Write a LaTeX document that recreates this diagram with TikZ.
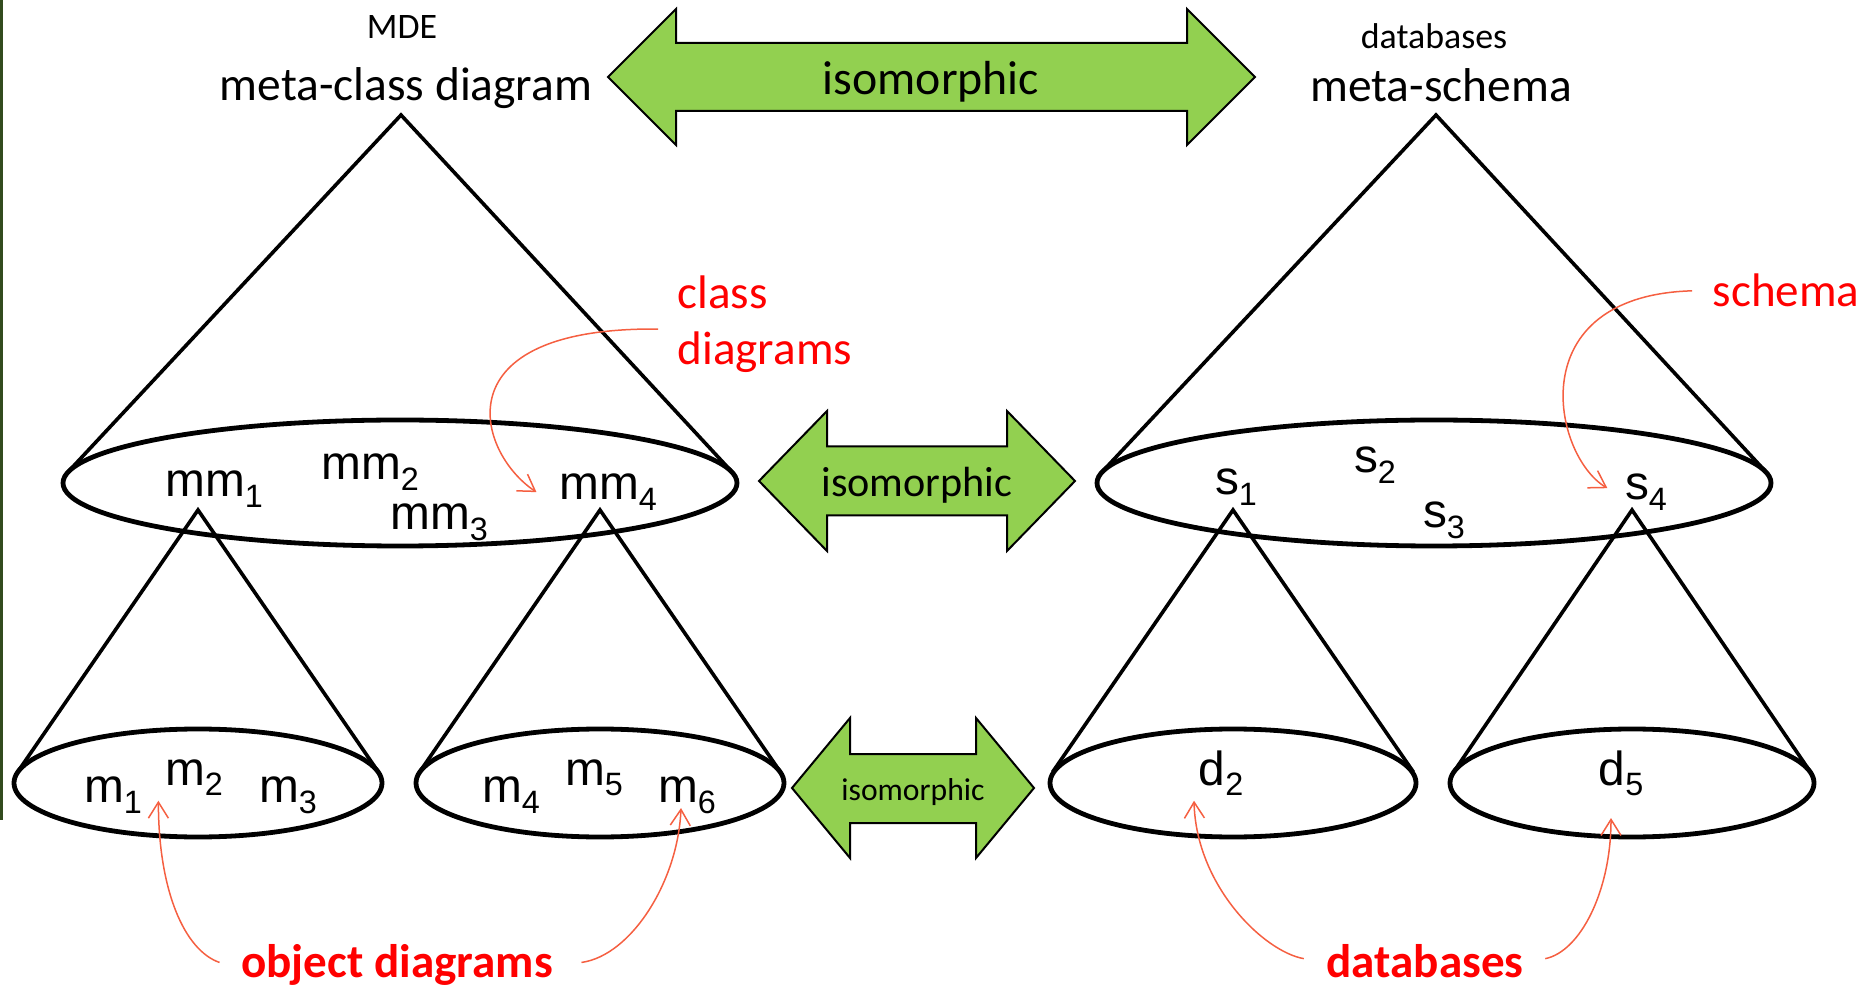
\documentclass[tikz,border=0pt]{standalone}
\usepackage{fontspec}
\setmainfont{Carlito}
\newfontfamily\arialfont{Liberation Sans}
\usetikzlibrary{arrows.meta}

\definecolor{isogreen}{HTML}{92D050}
\definecolor{notered}{HTML}{FF0000}
\definecolor{pointred}{RGB}{245,95,65}
\definecolor{edgegreen}{RGB}{50,75,30}

% lowered index after a label
\newcommand{\ix}[1]{\raisebox{-0.21em}{\fontsize{9.2}{10}\selectfont #1}}

\begin{document}
\begin{tikzpicture}[
  x=0.1mm, y=-0.1mm,
  coneline/.style={line width=0.36mm,line join=miter},
  rim/.style={line width=0.48mm},
  iso/.style={draw=black,line width=0.2mm,fill=isogreen,line join=miter},
  isotext/.style={inner sep=0pt,anchor=base},
  head/.style={inner sep=0pt,anchor=base,font=\fontsize{13.5}{16}\selectfont},
  subhead/.style={inner sep=0pt,anchor=base,font=\fontsize{10.2}{12}\selectfont},
  lbl/.style={inner sep=0pt,anchor=base,font=\arialfont\fontsize{13.6}{16}\selectfont},
  note/.style={inner sep=0pt,text=notered,font=\fontsize{13.4}{15.9}\selectfont},
  pointer/.style={-{Straight Barb[length=1.6mm,width=2mm]},draw=pointred,line width=0.15mm},
]
\useasboundingbox (0,0) rectangle (1869,987);

% stray rule on the left edge
\draw[edgegreen,line width=0.26mm] (1.3,0) -- (1.3,820);

% ---- titles ----
\node[subhead] (mde)     at (402,39)  {MDE};
\node[head]    (metacls) at (406,101) {meta-class diagram};
\node[subhead] (dbs)     at (1434,49) {databases};
\node[head]    (metasch) at (1441,102) {meta-schema};

% ---- cone apexes ----
\coordinate (mcTop) at (401,115);
\coordinate (msTop) at (1436,115);
\coordinate (aTop)  at (198,510);
\coordinate (bTop)  at (600,510);
\coordinate (cTop)  at (1233,510);
\coordinate (dTop)  at (1632,510);

% ---- cones: sides touch the rims ----
\draw[coneline] (68,472)     -- (mcTop) -- (732,472);
\draw[coneline] (1102,472)   -- (msTop) -- (1766,472);
\draw[coneline] (17.6,772)   -- (aTop)  -- (378.4,772);
\draw[coneline] (419.6,772)  -- (bTop)  -- (780.4,772);
\draw[coneline] (1052.6,772) -- (cTop)  -- (1413.4,772);
\draw[coneline] (1453.6,772) -- (dTop)  -- (1810.4,772);

\draw[rim] (400,483)  ellipse [x radius=33.7mm,y radius=6.3mm];
\draw[rim] (1434,483) ellipse [x radius=33.7mm,y radius=6.3mm];
\draw[rim] (198,783)  ellipse [x radius=18.4mm,y radius=5.4mm];
\draw[rim] (600,783)  ellipse [x radius=18.4mm,y radius=5.4mm];
\draw[rim] (1233,783) ellipse [x radius=18.3mm,y radius=5.4mm];
\draw[rim] (1632,783) ellipse [x radius=18.2mm,y radius=5.4mm];

% ---- labels in the rims ----
\node[lbl] (mm1) at (214,497) {mm\ix{1}};
\node[lbl] (mm2) at (370,480) {mm\ix{2}};
\node[lbl] (mm3) at (439,530) {mm\ix{3}};
\node[lbl] (mm4) at (608,500) {mm\ix{4}};

\node[lbl] (s1) at (1236,495) {s\ix{1}};
\node[lbl] (s2) at (1375,473) {s\ix{2}};
\node[lbl] (s3) at (1444,528) {s\ix{3}};
\node[lbl] (s4) at (1646,500) {s\ix{4}};

\node[lbl] (m1) at (113,803) {m\ix{1}};
\node[lbl] (m2) at (194,785) {m\ix{2}};
\node[lbl] (m3) at (288,803) {m\ix{3}};
\node[lbl] (m4) at (511,803) {m\ix{4}};
\node[lbl] (m5) at (594,785) {m\ix{5}};
\node[lbl] (m6) at (687,803) {m\ix{6}};

\node[lbl] (d2) at (1221,785) {d\ix{2}};
\node[lbl] (d5) at (1621,785) {d\ix{5}};

% ---- isomorphic double arrows ----
\draw[iso] (608,77) -- (676,9) -- (676,43) -- (1187,43) -- (1187,9) -- (1255,77)
  -- (1187,145) -- (1187,111) -- (676,111) -- (676,145) -- cycle;
\node[isotext,font=\fontsize{13.6}{16}\selectfont] (isotop) at (931,95) {isomorphic};

\draw[iso] (759,481) -- (827,411) -- (827,446.5) -- (1007,446.5) -- (1007,411) -- (1075,481)
  -- (1007,551) -- (1007,515.5) -- (827,515.5) -- (827,551) -- cycle;
\node[isotext,font=\fontsize{12}{14}\selectfont] (isomid) at (917,497) {isomorphic};

\draw[iso] (792,788) -- (850,718) -- (850,754) -- (976,754) -- (976,718) -- (1034,788)
  -- (976,858) -- (976,823) -- (850,823) -- (850,858) -- cycle;
\node[isotext,font=\fontsize{9}{11}\selectfont] (isobot) at (913,800) {isomorphic};

% ---- red notes ----
\node[note,anchor=north west,align=left] (clsnote) at (677,275) {class\\diagrams};
\node[note,anchor=base west] (schnote) at (1712,307) {schema};
\node[note,anchor=base,font=\fontsize{13.4}{16}\selectfont\bfseries] (objnote) at (397,977) {object diagrams};
\node[note,anchor=base,font=\fontsize{13.4}{16}\selectfont\bfseries] (dbnote) at (1425,977) {databases};

\draw[pointer] ([shift={(-19,5)}]clsnote.west)
  .. controls +(-218,-2) and +(-60,-40) .. ([shift={(-22,0)}]mm4.west);
\draw[pointer] ([shift={(-20,0)}]schnote.west)
  .. controls +(-172,5) and +(-55,-33) .. ([shift={(-17,-4)}]s4.west);

\draw[pointer] ([shift={(-21,-2)}]objnote.west)
  .. controls +(-35,-12) and +(0,90) .. ([shift={(-6,5)}]m2.south west);
\draw[pointer] ([shift={(28,-2)}]objnote.east)
  .. controls +(50,-7) and +(-3,73) .. ([shift={(-6,-6)}]m6.south);

\draw[pointer] ([shift={(-22,-2)}]dbnote.west)
  .. controls +(-40,-7) and +(2,85) .. ([shift={(-4,5)}]d2.south west);
\draw[pointer] ([shift={(21,-2)}]dbnote.east)
  .. controls +(35,-7) and +(0,73) .. ([shift={(-10,22)}]d5.south);

\end{tikzpicture}
\end{document}
